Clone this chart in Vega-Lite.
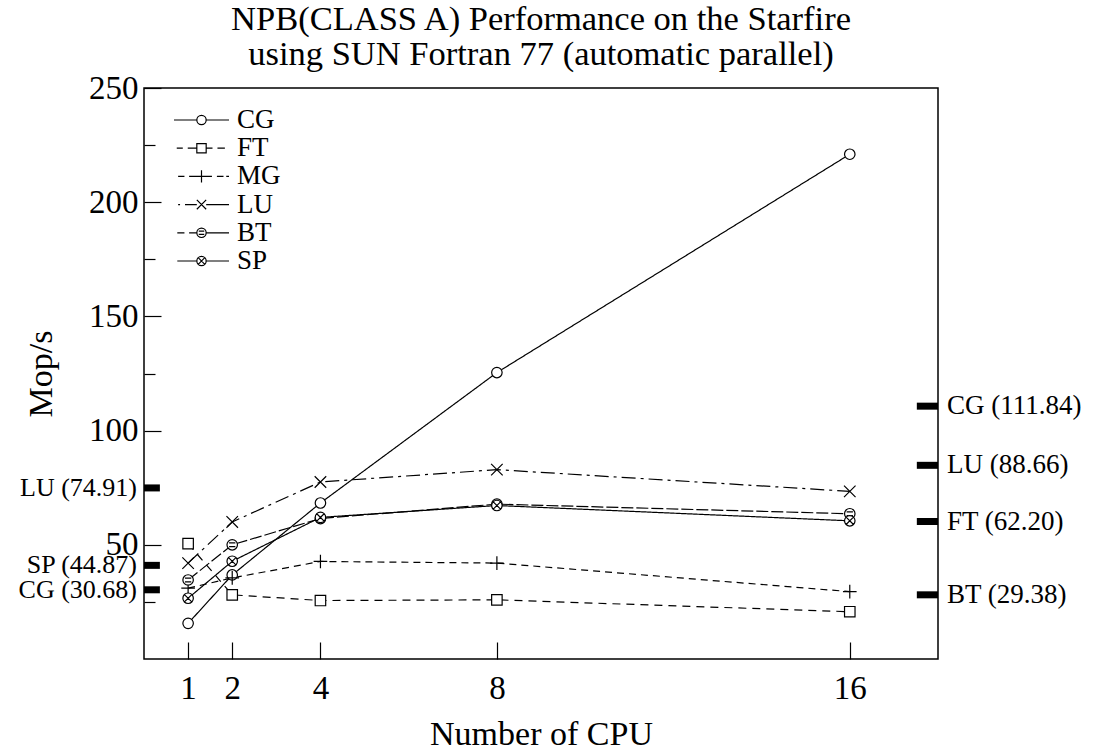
{
  "$schema": "https://vega.github.io/schema/vega-lite/v6.json",
  "width": 794,
  "height": 571,
  "autosize": "none",
  "padding": {"left": 144, "top": 88, "right": 159, "bottom": 92},
  "background": "white",
  "config": {
    "view": {"stroke": "black", "strokeWidth": 1.5},
    "font": "Liberation Serif",
    "text": {"font": "Liberation Serif", "color": "black"}
  },
  "title": {
    "text": ["NPB(CLASS A) Performance on the Starfire", "using SUN Fortran 77 (automatic parallel)"],
    "font": "Liberation Serif",
    "fontSize": 34.5,
    "fontWeight": "normal",
    "lineHeight": 34.5,
    "anchor": "middle",
    "offset": 0,
    "color": "black"
  },
  "datasets": {
    "perf": [
      {"series": "CG", "cpu": 1, "mops": 15.6},
      {"series": "CG", "cpu": 2, "mops": 36.8},
      {"series": "CG", "cpu": 4, "mops": 68.3},
      {"series": "CG", "cpu": 8, "mops": 125.4},
      {"series": "CG", "cpu": 16, "mops": 221},
      {"series": "FT", "cpu": 1, "mops": 50.5},
      {"series": "FT", "cpu": 2, "mops": 28.1},
      {"series": "FT", "cpu": 4, "mops": 25.6},
      {"series": "FT", "cpu": 8, "mops": 25.9},
      {"series": "FT", "cpu": 16, "mops": 20.7},
      {"series": "MG", "cpu": 1, "mops": 31},
      {"series": "MG", "cpu": 2, "mops": 35.5},
      {"series": "MG", "cpu": 4, "mops": 42.7},
      {"series": "MG", "cpu": 8, "mops": 42},
      {"series": "MG", "cpu": 16, "mops": 29.5},
      {"series": "LU", "cpu": 1, "mops": 42},
      {"series": "LU", "cpu": 2, "mops": 60},
      {"series": "LU", "cpu": 4, "mops": 77.5},
      {"series": "LU", "cpu": 8, "mops": 82.9},
      {"series": "LU", "cpu": 16, "mops": 73.4},
      {"series": "BT", "cpu": 1, "mops": 34.6},
      {"series": "BT", "cpu": 2, "mops": 50},
      {"series": "BT", "cpu": 4, "mops": 61.5},
      {"series": "BT", "cpu": 8, "mops": 67.8},
      {"series": "BT", "cpu": 16, "mops": 63.6},
      {"series": "SP", "cpu": 1, "mops": 26.6},
      {"series": "SP", "cpu": 2, "mops": 42.8},
      {"series": "SP", "cpu": 4, "mops": 62},
      {"series": "SP", "cpu": 8, "mops": 67.2},
      {"series": "SP", "cpu": 16, "mops": 60.5}
    ],
    "ultra5": [
      {"label": "LU (74.91)", "value": 74.9},
      {"label": "SP (44.87)", "value": 41},
      {"label": "CG (30.68)", "value": 30.3}
    ],
    "vxe": [
      {"label": "CG (111.84)", "value": 110.7},
      {"label": "LU (88.66)", "value": 84.8},
      {"label": "FT (62.20)", "value": 60.2},
      {"label": "BT (29.38)", "value": 28.1}
    ]
  },
  "layer": [
    {
      "data": {"name": "perf"},
      "mark": {"type": "line", "strokeWidth": 1.2},
      "encoding": {
        "x": {
          "field": "cpu", "type": "quantitative",
          "scale": {"domain": [0, 18], "nice": false},
          "axis": {
            "values": [1, 2, 4, 8, 16],
            "title": "Number of CPU",
            "grid": false,
            "domain": false,
            "tickSize": -17,
            "tickColor": "black",
            "tickWidth": 1.2,
            "labelFont": "Liberation Serif",
            "labelFontSize": 33,
            "labelColor": "black",
            "labelPadding": 30,
            "titleFont": "Liberation Serif",
            "titleFontSize": 34,
            "titleFontWeight": "normal",
            "titleColor": "black",
            "titlePadding": 12
          }
        },
        "y": {
          "field": "mops", "type": "quantitative",
          "scale": {"domain": [0, 250], "nice": false},
          "axis": {
            "values": [25, 50, 75, 100, 125, 150, 175, 200, 225, 250],
            "labelExpr": "datum.value % 50 === 0 ? datum.label : ''",
            "title": "Mop/s",
            "grid": false,
            "domain": false,
            "tickSize": {"condition": {"test": "datum.value % 50 === 0", "value": -17}, "value": -11},
            "tickColor": "black",
            "tickWidth": 1.2,
            "labelFont": "Liberation Serif",
            "labelFontSize": 33,
            "labelColor": "black",
            "labelPadding": 23,
            "titleFont": "Liberation Serif",
            "titleFontSize": 34,
            "titleFontWeight": "normal",
            "titleColor": "black",
            "titlePadding": 30
          }
        },
        "color": {
          "field": "series", "type": "nominal",
          "scale": {
            "domain": ["CG", "FT", "MG", "LU", "BT", "SP"],
            "range": ["black", "black", "black", "black", "black", "black"]
          },
          "legend": {
            "orient": "top-left",
            "title": null,
            "offset": 19,
            "symbolOffset": 10,
            "symbolSize": 3025,
            "symbolStrokeWidth": 1.2,
            "symbolType": {"expr": "datum.value === 'CG' ? 'M-1,0H-0.17M0.17,0H1M0.17,0A0.17,0.17,0,1,1,-0.17,0A0.17,0.17,0,1,1,0.17,0Z' : datum.value === 'FT' ? 'M-0.9,0H-0.68M-0.5,0H-0.17M0.17,0H0.4M0.58,0H0.85M-0.17,-0.17H0.17V0.17H-0.17Z' : datum.value === 'MG' ? 'M-0.85,0H-0.62M-0.45,0H0.38M0.56,0H0.8M0.9,0H1M0,-0.22V0.22' : datum.value === 'LU' ? 'M-0.85,0H-0.78M-0.6,0H-0.17M-0.17,-0.17L0.17,0.17M-0.17,0.17L0.17,-0.17M0.17,0H1' : datum.value === 'BT' ? 'M-0.88,0H-0.62M-0.45,0H-0.17M0.17,0H1M0.17,0A0.17,0.17,0,1,1,-0.17,0A0.17,0.17,0,1,1,0.17,0ZM-0.1,-0.06H0.1M-0.1,0.06H0.1' : 'M-0.88,0H-0.17M0.17,0H1M0.17,0A0.17,0.17,0,1,1,-0.17,0A0.17,0.17,0,1,1,0.17,0ZM-0.12,-0.12L0.12,0.12M-0.12,0.12L0.12,-0.12'"},
            "labelFont": "Liberation Serif",
            "labelFontSize": 27,
            "labelColor": "black",
            "labelOffset": 7,
            "clipHeight": 26,
            "rowPadding": 1.2
          }
        },
        "strokeDash": {
          "field": "series", "type": "nominal",
          "scale": {
            "range": [[12, 3], [1, 0], [8, 6], [14, 5, 3, 5], [7, 5], [1, 0]]
          },
          "legend": null
        }
      }
    },
    {
      "data": {"name": "perf"},
      "mark": {"type": "point", "filled": true, "fill": "white", "stroke": "black", "strokeWidth": 1.2, "opacity": 1, "size": 110},
      "encoding": {
        "x": {"field": "cpu", "type": "quantitative"},
        "y": {"field": "mops", "type": "quantitative"},
        "shape": {
          "field": "series", "type": "nominal",
          "scale": {
            "range": [
              "M1,0A1,1,0,1,1,-1,0A1,1,0,1,1,1,0ZM-0.6,-0.35H0.6M-0.6,0.35H0.6",
              "M1,0A1,1,0,1,1,-1,0A1,1,0,1,1,1,0Z",
              "M-1,-1H1V1H-1Z",
              "M-1.1,-1.1L1.1,1.1M-1.1,1.1L1.1,-1.1",
              "M-1.3,0H1.3M0,-1.3V1.3",
              "M1,0A1,1,0,1,1,-1,0A1,1,0,1,1,1,0ZM-0.7,-0.7L0.7,0.7M-0.7,0.7L0.7,-0.7"
            ]
          },
          "legend": null
        }
      }
    },
    {
      "data": {"name": "ultra5"},
      "mark": {"type": "rule", "color": "black", "strokeWidth": 7},
      "encoding": {
        "x": {"datum": 0},
        "x2": {"datum": 0.36},
        "y": {"field": "value", "type": "quantitative"}
      }
    },
    {
      "data": {"name": "ultra5"},
      "mark": {"type": "text", "align": "right", "baseline": "middle", "dx": -7, "fontSize": 26, "font": "Liberation Serif", "color": "black"},
      "encoding": {
        "x": {"datum": 0},
        "y": {"field": "value", "type": "quantitative"},
        "text": {"field": "label"}
      }
    },
    {
      "data": {"name": "vxe"},
      "mark": {"type": "rule", "color": "black", "strokeWidth": 7},
      "encoding": {
        "x": {"datum": 17.52},
        "x2": {"datum": 18},
        "y": {"field": "value", "type": "quantitative"}
      }
    },
    {
      "data": {"name": "vxe"},
      "mark": {"type": "text", "align": "left", "baseline": "middle", "dx": 9, "fontSize": 27, "font": "Liberation Serif", "color": "black"},
      "encoding": {
        "x": {"datum": 18},
        "y": {"field": "value", "type": "quantitative"},
        "text": {"field": "label"}
      }
    },
    {
      "mark": {"type": "text", "align": "center", "baseline": "middle", "dx": 75, "dy": -64, "fontSize": 32, "font": "Liberation Serif", "color": "black", "text": "VX-E"},
      "encoding": {"x": {"datum": 18}, "y": {"datum": 250}}
    },
    {
      "mark": {"type": "text", "align": "center", "baseline": "middle", "dx": 82, "dy": -27, "fontSize": 27, "font": "Liberation Serif", "color": "black", "text": "MG (490.16)"},
      "encoding": {"x": {"datum": 18}, "y": {"datum": 250}}
    },
    {
      "mark": {"type": "text", "align": "center", "baseline": "middle", "dx": 82, "dy": -2, "fontSize": 27, "font": "Liberation Serif", "color": "black", "text": "SP (473.36)"},
      "encoding": {"x": {"datum": 18}, "y": {"datum": 250}}
    },
    {
      "mark": {"type": "text", "align": "right", "baseline": "middle", "dx": -44, "dy": 30, "fontSize": 28, "font": "Liberation Serif", "color": "black", "text": "Ultra 5"},
      "encoding": {"x": {"datum": 0}, "y": {"datum": 0}}
    }
  ]
}
